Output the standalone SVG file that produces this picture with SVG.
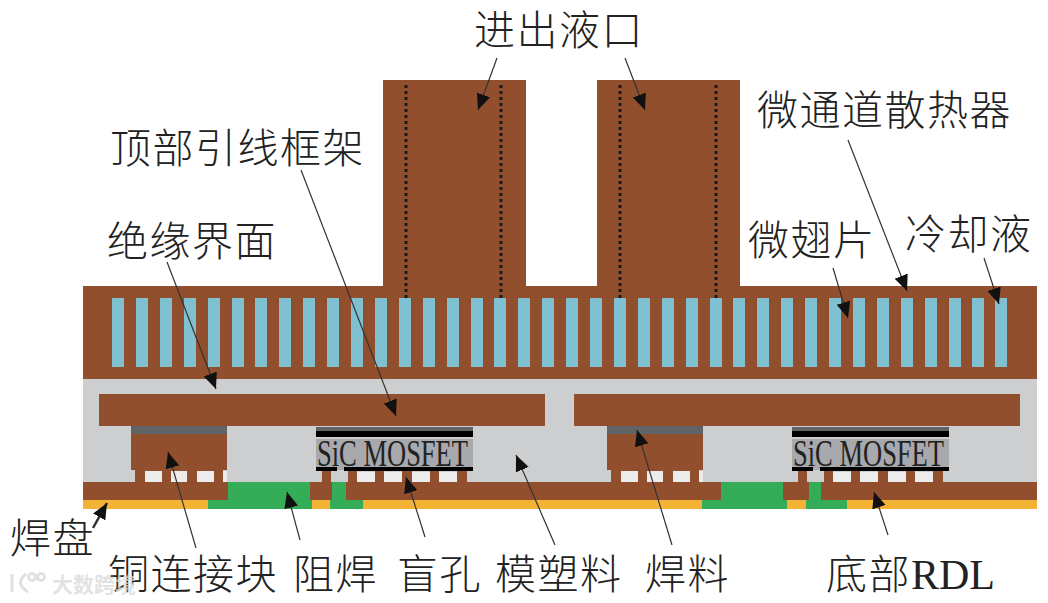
<svg xmlns="http://www.w3.org/2000/svg" width="1048" height="603" viewBox="0 0 1048 603">
<defs>
<marker id="ah" markerUnits="userSpaceOnUse" markerWidth="18" markerHeight="16" refX="16" refY="8" orient="auto"><path d="M0 1L16 8L0 15Z" fill="#111"/></marker>
<rect id="fin" width="12" height="69" y="298" fill="#80c1d1"/>
<g id="cu">
<rect x="131" y="426" width="96" height="8" fill="#626366"/>
<rect x="131" y="434" width="96" height="36" fill="#924f2e"/>
<rect x="135" y="470" width="88" height="12" fill="#924f2e"/>
<rect x="145" y="471" width="17" height="11" fill="#ececec"/><rect x="171" y="471" width="16" height="11" fill="#ececec"/><rect x="197" y="471" width="17" height="11" fill="#ececec"/>
<rect x="223" y="471" width="4" height="11" fill="#ececec"/>
</g>
<g id="mos">
<rect x="316" y="427" width="157" height="43" fill="#a7a9ad"/>
<rect x="316" y="427" width="157" height="4" fill="#626366"/>
<rect x="316" y="431" width="157" height="6" fill="#000"/>
<rect x="316" y="437" width="157" height="2" fill="#cdced0"/>
<rect x="316" y="467" width="21" height="4" fill="#000"/>
<rect x="344" y="467" width="129" height="4" fill="#000"/>
<g fill="#924f2e"><rect x="322" y="471" width="9" height="11"/><rect x="348" y="471" width="9" height="11"/><rect x="375" y="471" width="9" height="11"/><rect x="402" y="471" width="10" height="11"/><rect x="430" y="471" width="9" height="11"/><rect x="457" y="471" width="10" height="11"/></g>
<g fill="#ececec"><rect x="357" y="472" width="18" height="10"/><rect x="384" y="472" width="18" height="10"/><rect x="412" y="472" width="18" height="10"/><rect x="439" y="472" width="18" height="10"/></g>
<text x="317" y="466" class="sic" textLength="151" lengthAdjust="spacingAndGlyphs">SiC MOSFET</text>
</g>
</defs>
<style>
.b{fill:#924f2e}.g{fill:#35ac58}.y{fill:#f5b335}
.l{font-family:"Noto Sans CJK SC","Noto Sans CJK JP",sans-serif;font-size:41px;font-weight:300;letter-spacing:1.5px;fill:#222}
.r{font-family:"Liberation Serif",serif;font-size:42px;letter-spacing:0}
.sic{font-family:"Liberation Serif",serif;font-size:38px;fill:#222}
.c line{stroke:#333;stroke-width:1.2;marker-end:url(#ah)}
.d{stroke:#1a1a1a;stroke-width:3;stroke-dasharray:3 3;fill:none}
</style>
<rect width="1048" height="603" fill="#fff"/>

<g id="heatsink">
<rect class="b" x="383" y="80" width="143" height="210"/>
<rect class="b" x="597" y="80" width="143" height="210"/>
<rect class="b" x="83" y="286" width="954" height="93"/>
<use href="#fin" x="112"/><use href="#fin" x="136"/><use href="#fin" x="160"/><use href="#fin" x="184"/><use href="#fin" x="208"/><use href="#fin" x="232"/><use href="#fin" x="255"/><use href="#fin" x="279"/><use href="#fin" x="303"/><use href="#fin" x="327"/><use href="#fin" x="351"/><use href="#fin" x="375"/><use href="#fin" x="399"/><use href="#fin" x="423"/><use href="#fin" x="447"/><use href="#fin" x="471"/><use href="#fin" x="494"/><use href="#fin" x="518"/><use href="#fin" x="542"/><use href="#fin" x="566"/><use href="#fin" x="590"/><use href="#fin" x="614"/><use href="#fin" x="638"/><use href="#fin" x="662"/><use href="#fin" x="686"/><use href="#fin" x="710"/><use href="#fin" x="733"/><use href="#fin" x="757"/><use href="#fin" x="781"/><use href="#fin" x="805"/><use href="#fin" x="829"/><use href="#fin" x="853"/><use href="#fin" x="877"/><use href="#fin" x="901"/><use href="#fin" x="925"/><use href="#fin" x="949"/><use href="#fin" x="972"/><use href="#fin" x="995"/>
<path class="d" d="M406 85V298M501 85V298M620 85V298M716 85V298"/>
</g>

<g id="package">
<rect x="83" y="379" width="954" height="103" fill="#cdced0"/>
<rect class="b" x="99" y="394" width="446" height="32"/>
<rect class="b" x="574" y="394" width="446" height="32"/>
<use href="#cu"/><use href="#cu" x="476"/>
</g>
<g id="mosfet-left"><use href="#mos"/></g>
<g id="mosfet-right"><use href="#mos" x="476"/></g>

<g id="substrate">
<rect class="b" x="83" y="482" width="954" height="18"/>
<rect class="y" x="83" y="500" width="954" height="9"/>
<rect class="g" x="228" y="482" width="82" height="18"/><rect class="g" x="208" y="500" width="104" height="9"/>
<rect class="g" x="332" y="482" width="14" height="18"/><rect class="g" x="330" y="500" width="33" height="9"/>
<rect class="g" x="721" y="482" width="62" height="18"/><rect class="g" x="702" y="500" width="85" height="9"/>
<rect class="g" x="809" y="482" width="12" height="18"/><rect class="g" x="806" y="500" width="41" height="9"/>
</g>

<g id="connectors" class="c">
<line x1="497" y1="58" x2="478" y2="110"/>
<line x1="625" y1="58" x2="645" y2="110"/>
<line x1="848" y1="140" x2="907" y2="291"/>
<line x1="984" y1="258" x2="999" y2="304"/>
<line x1="833" y1="268" x2="848" y2="318"/>
<line x1="301" y1="170" x2="396" y2="416"/>
<line x1="167" y1="262" x2="216" y2="389"/>
<line x1="93" y1="528" x2="107" y2="503" style="stroke-width:2.5"/>
<line x1="196" y1="548" x2="168" y2="452"/>
<line x1="300" y1="540" x2="287" y2="492"/>
<line x1="425" y1="537" x2="406" y2="477"/>
<line x1="555" y1="545" x2="516" y2="455"/>
<line x1="672" y1="545" x2="637" y2="430"/>
<line x1="888" y1="535" x2="874" y2="492"/>
</g>

<g id="labels">
<text class="l" x="474" y="45">进出液口</text>
<text class="l" x="757" y="125">微通道散热器</text>
<text class="l" x="110" y="163">顶部引线框架</text>
<text class="l" x="107" y="256">绝缘界面</text>
<text class="l" x="748" y="255">微翅片</text>
<text class="l" x="905" y="249">冷却液</text>
<text class="l" x="10" y="553">焊盘</text>
<text class="l" x="108" y="589">铜连接块</text>
<text class="l" x="293" y="589">阻焊</text>
<text class="l" x="397" y="589">盲孔</text>
<text class="l" x="495" y="589">模塑料</text>
<text class="l" x="645" y="589">焊料</text>
<text class="l" x="826" y="589">底部<tspan class="r">RDL</tspan></text>
<g id="watermark" fill="none" stroke="#d9d9d9" stroke-width="3" stroke-opacity="0.8"><path d="M12 574V592M26 574Q14 583 28 592"/><circle cx="32" cy="577" r="3.5"/><circle cx="41" cy="577" r="3.5"/></g>
<text x="52" y="592" font-family="'Noto Sans CJK SC',sans-serif" font-size="21" font-weight="700" fill="#d9d9d9" fill-opacity="0.75">大数跨境</text>
</g>
</svg>
